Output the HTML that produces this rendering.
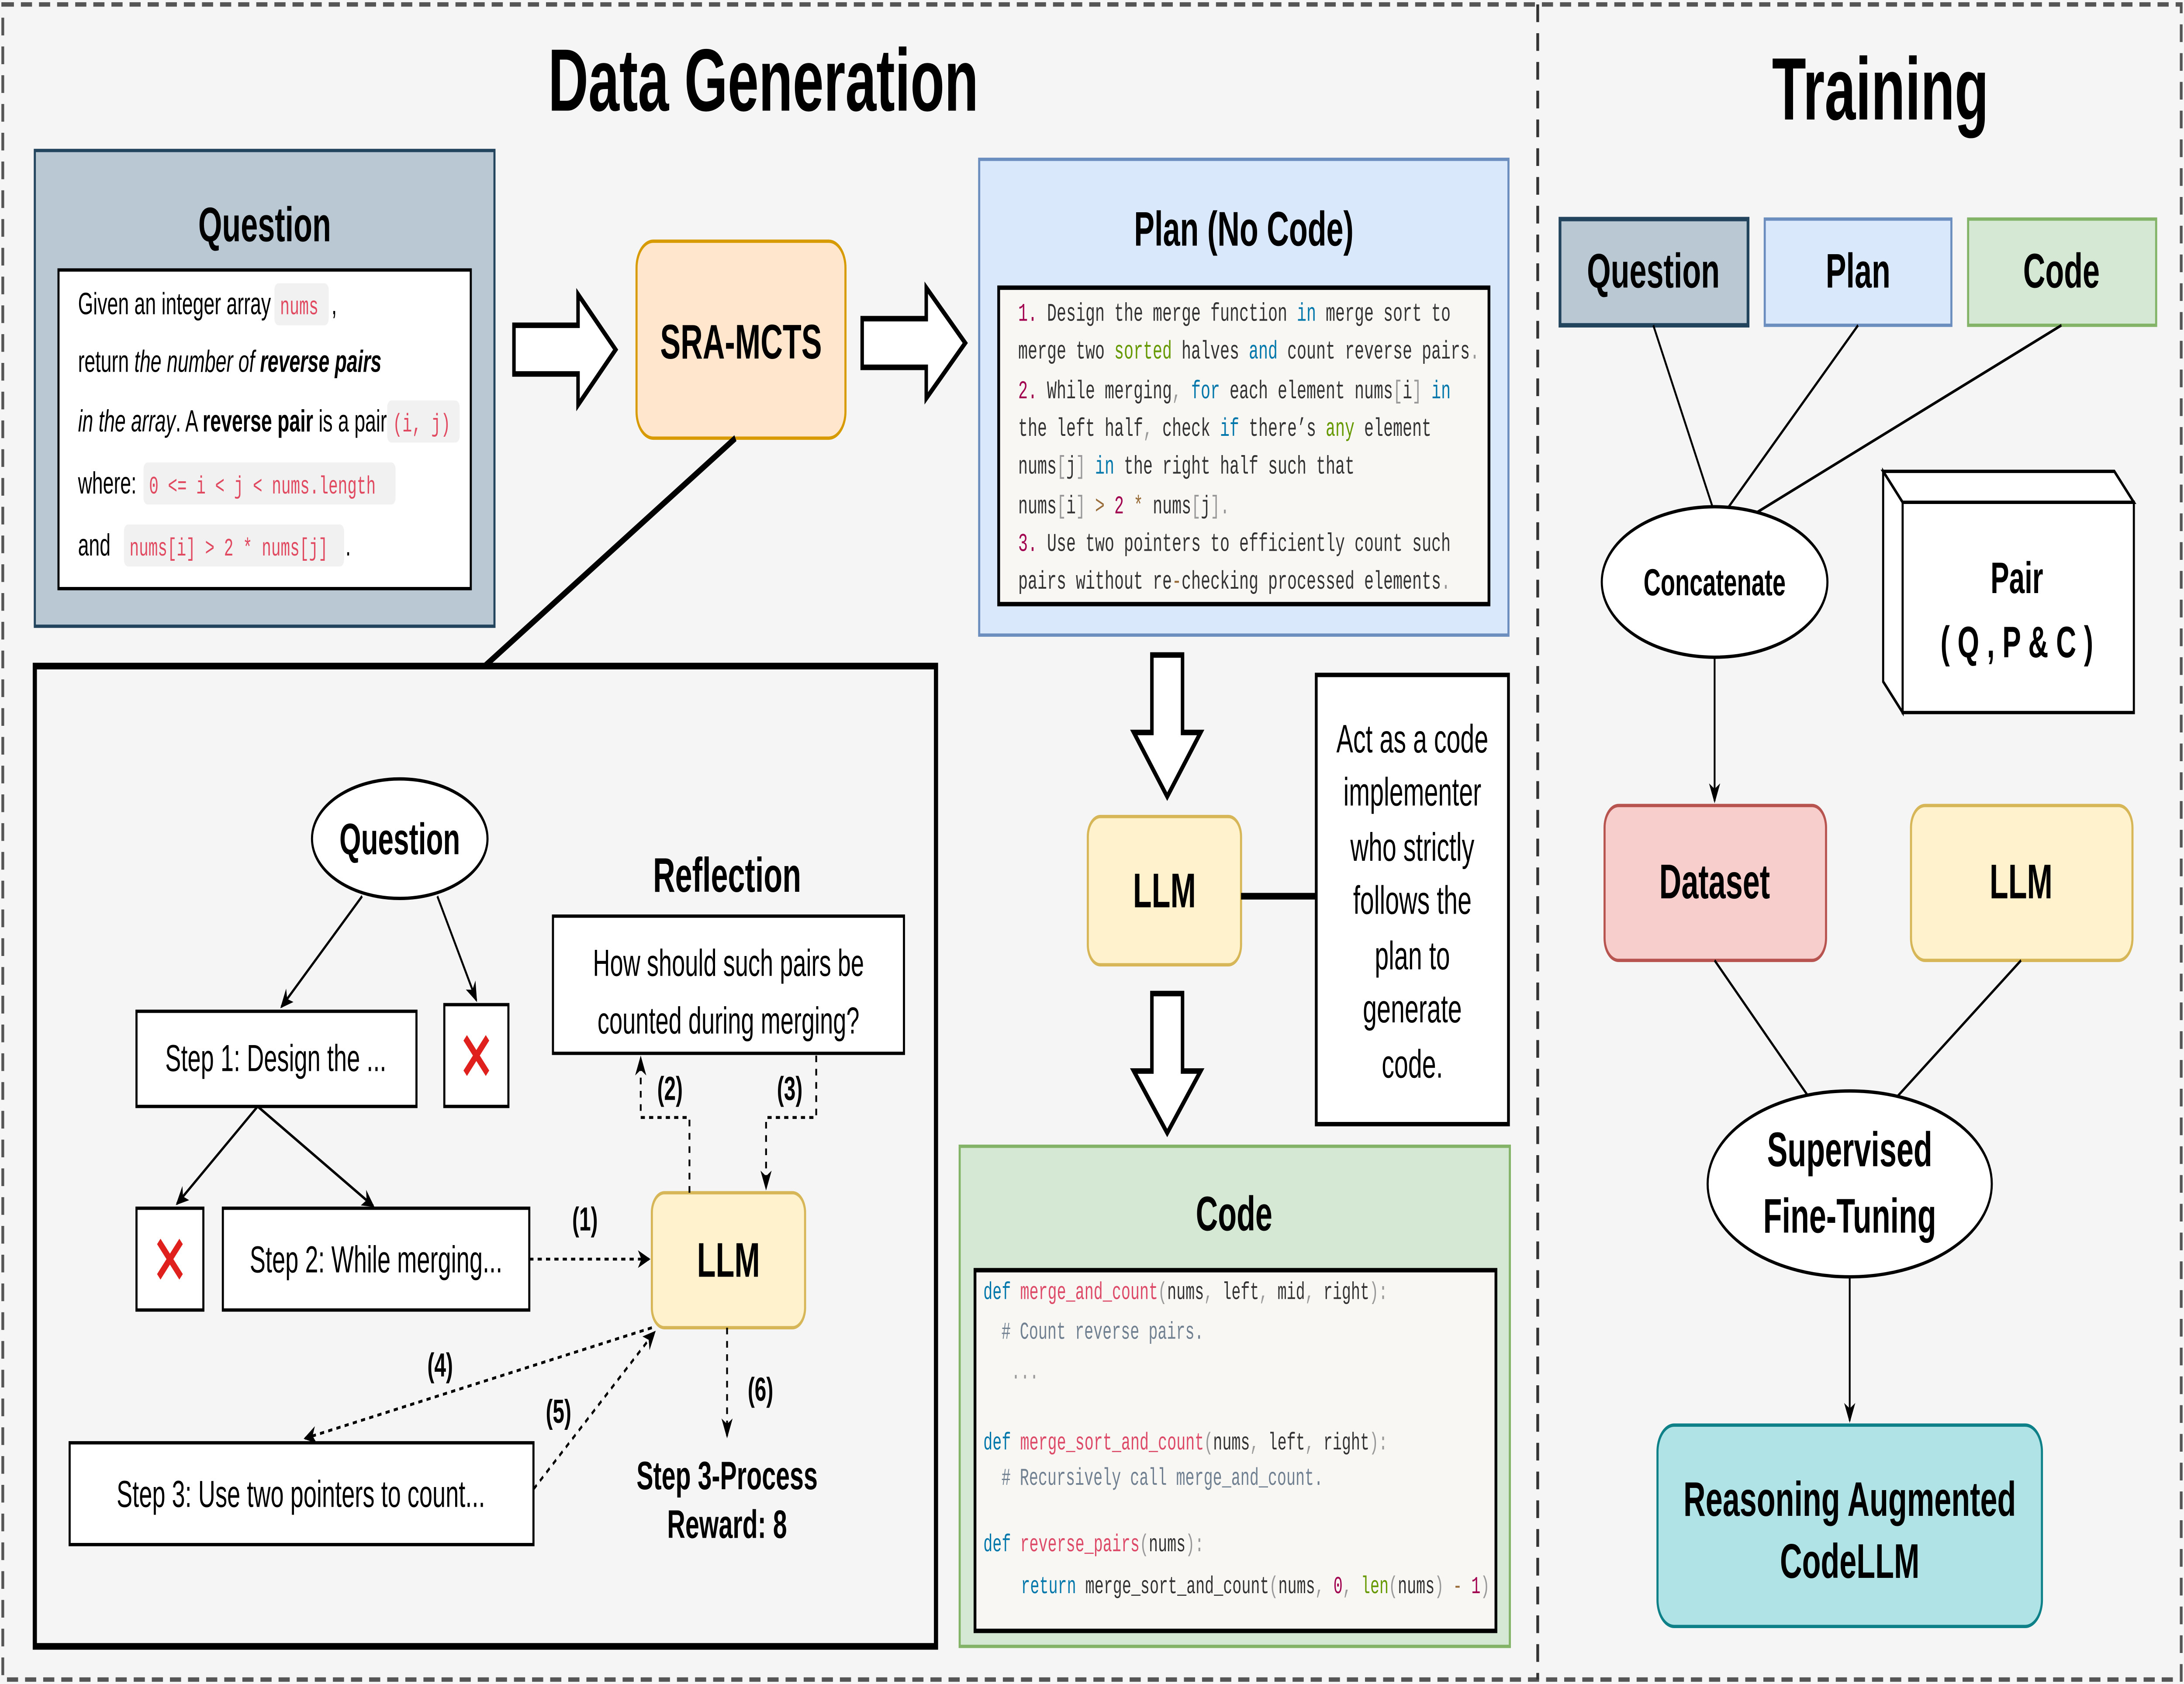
<!DOCTYPE html>
<html><head><meta charset="utf-8"><style>
html,body{margin:0;padding:0;background:#f5f5f5;width:100%;height:100%;overflow:hidden;}
svg{display:block;position:fixed;left:0;top:0;width:100vw;height:100vh;}
</style></head><body>
<svg viewBox="0 0 1568 761" preserveAspectRatio="none" xmlns="http://www.w3.org/2000/svg">
<defs>
<marker id="ar" markerWidth="10" markerHeight="10" refX="8" refY="5" orient="auto" markerUnits="userSpaceOnUse"><path d="M0,1 L9,5 L0,9 L2.5,5 Z" fill="#000"/></marker>
</defs>
<g font-family="'Liberation Sans', sans-serif">
<rect x="0" y="0" width="1568" height="761" fill="#f5f5f5"/>
<rect x="2" y="2" width="1564" height="757" fill="none" stroke="#555" stroke-width="2" stroke-dasharray="8,5"/>
<line x1="1104" y1="2" x2="1104" y2="759" stroke="#333" stroke-width="2" stroke-dasharray="8,5"/>

<text x="548" y="50" font-size="40" font-weight="bold" text-anchor="middle">Data Generation</text>
<text x="1350" y="54" font-size="40" font-weight="bold" text-anchor="middle">Training</text>

<!-- Question -->
<rect x="25" y="68" width="330" height="215" fill="#bac8d3" stroke="#23445d" stroke-width="1.5"/>
<text x="190" y="109" font-size="22" font-weight="bold" text-anchor="middle">Question</text>
<rect x="42" y="122" width="296" height="144" fill="#fff" stroke="#000" stroke-width="1.5"/>
<g font-size="14">
<text x="56" y="142">Given an integer array</text>
<rect x="197" y="128" width="39" height="19" rx="3" fill="#f1f1f1"/><text x="201" y="142" font-family="'Liberation Mono', monospace" font-size="11.5" fill="#e0495f">nums</text>
<text x="238" y="142">,</text>
<text x="56" y="168">return <tspan font-style="italic">the number of </tspan><tspan font-style="italic" font-weight="bold">reverse pairs</tspan></text>
<text x="56" y="195"><tspan font-style="italic">in the array</tspan>. A <tspan font-weight="bold">reverse pair</tspan> is a pair</text>
<rect x="278" y="181" width="52" height="19" rx="3" fill="#f1f1f1"/><text x="282" y="195" font-family="'Liberation Mono', monospace" font-size="11.5" fill="#e0495f">(i, j)</text>
<text x="56" y="223">where:</text>
<rect x="103" y="209" width="181" height="19" rx="3" fill="#f1f1f1"/><text x="107" y="223" font-family="'Liberation Mono', monospace" font-size="11.3" fill="#e0495f">0 &lt;= i &lt; j &lt; nums.length</text>
<text x="56" y="251">and</text>
<rect x="89" y="237" width="158" height="19" rx="3" fill="#f1f1f1"/><text x="93" y="251" font-family="'Liberation Mono', monospace" font-size="11.3" fill="#e0495f">nums[i] &gt; 2 * nums[j]</text>
<text x="248" y="251">.</text>
</g>

<!-- hollow arrows -->
<path d="M369,147 L415,147 L415,133 L442,158 L415,183 L415,169 L369,169 Z" fill="#fff" stroke="#000" stroke-width="2.5"/>
<path d="M619,144 L665,144 L665,130 L693,155 L665,180 L665,166 L619,166 Z" fill="#fff" stroke="#000" stroke-width="2.5"/>
<path d="M827,296 L849,296 L849,331 L862,331 L838,360 L814,331 L827,331 Z" fill="#fff" stroke="#000" stroke-width="2.5"/>
<path d="M827,449 L849,449 L849,484 L862,484 L838,512 L814,484 L827,484 Z" fill="#fff" stroke="#000" stroke-width="2.5"/>

<!-- SRA-MCTS -->
<rect x="457" y="109" width="150" height="89" rx="12" fill="#ffe6cc" stroke="#d79b00" stroke-width="1.5"/>
<text x="532" y="162" font-size="22" font-weight="bold" text-anchor="middle">SRA-MCTS</text>
<line x1="528" y1="198" x2="348" y2="301" stroke="#000" stroke-width="3"/>

<!-- Plan -->
<rect x="703" y="72" width="380" height="215" fill="#dae8fc" stroke="#6c8ebf" stroke-width="1.5"/>
<text x="893" y="111" font-size="22" font-weight="bold" text-anchor="middle">Plan (No Code)</text>
<rect x="717" y="130" width="352" height="143" fill="#f8f7f4" stroke="#000" stroke-width="2"/>
<g font-family="'Liberation Mono', monospace" font-size="11.5" fill="#333">
<text x="731" y="145"><tspan fill="#a1004f">1.</tspan> Design the merge function <tspan fill="#0077aa">in</tspan> merge sort to</text>
<text x="731" y="162">merge two <tspan fill="#669900">sorted</tspan> halves <tspan fill="#0077aa">and</tspan> count reverse pairs<tspan fill="#999">.</tspan></text>
<text x="731" y="180"><tspan fill="#a1004f">2.</tspan> While merging<tspan fill="#999">,</tspan> <tspan fill="#0077aa">for</tspan> each element nums<tspan fill="#999">[</tspan>i<tspan fill="#999">]</tspan> <tspan fill="#0077aa">in</tspan></text>
<text x="731" y="197">the left half<tspan fill="#999">,</tspan> check <tspan fill="#0077aa">if</tspan> there’s <tspan fill="#669900">any</tspan> element</text>
<text x="731" y="214">nums<tspan fill="#999">[</tspan>j<tspan fill="#999">]</tspan> <tspan fill="#0077aa">in</tspan> the right half such that</text>
<text x="731" y="232">nums<tspan fill="#999">[</tspan>i<tspan fill="#999">]</tspan> <tspan fill="#9a6e3a">&gt;</tspan> <tspan fill="#a1004f">2</tspan> <tspan fill="#9a6e3a">*</tspan> nums<tspan fill="#999">[</tspan>j<tspan fill="#999">].</tspan></text>
<text x="731" y="249"><tspan fill="#a1004f">3.</tspan> Use two pointers to efficiently count such</text>
<text x="731" y="266">pairs without re<tspan fill="#9a6e3a">-</tspan>checking processed elements<tspan fill="#999">.</tspan></text>
</g>

<!-- big box -->
<rect x="25" y="301" width="647" height="443" fill="#f5f5f5" stroke="#000" stroke-width="3"/>
<ellipse cx="287" cy="379" rx="63" ry="27" fill="#fff" stroke="#000" stroke-width="1.5"/>
<text x="287" y="386" font-size="20" font-weight="bold" text-anchor="middle">Question</text>
<line x1="260" y1="405" x2="202" y2="455" stroke="#000" stroke-width="1.3" marker-end="url(#ar)"/>
<line x1="314" y1="405" x2="342" y2="452" stroke="#000" stroke-width="1.3" marker-end="url(#ar)"/>
<rect x="98" y="457" width="201" height="43" fill="#fff" stroke="#000" stroke-width="1.5"/>
<text x="198" y="484" font-size="17" text-anchor="middle">Step 1: Design the ...</text>
<rect x="319" y="454" width="46" height="46" fill="#fff" stroke="#000" stroke-width="1.5"/>
<path d="M334,469 L350,485 M350,469 L334,485" stroke="#e0201c" stroke-width="3.5"/>
<line x1="185" y1="500" x2="127" y2="544" stroke="#000" stroke-width="1.3" marker-end="url(#ar)"/>
<line x1="185" y1="500" x2="268" y2="545" stroke="#000" stroke-width="1.3" marker-end="url(#ar)"/>
<rect x="98" y="546" width="48" height="46" fill="#fff" stroke="#000" stroke-width="1.5"/>
<path d="M114,561 L130,577 M130,561 L114,577" stroke="#e0201c" stroke-width="3.5"/>
<rect x="160" y="546" width="220" height="46" fill="#fff" stroke="#000" stroke-width="1.5"/>
<text x="270" y="575" font-size="17" text-anchor="middle">Step 2: While merging...</text>
<text x="420" y="556" font-size="15" font-weight="bold" text-anchor="middle">(1)</text>
<line x1="380" y1="569" x2="466" y2="569" stroke="#000" stroke-width="1.3" stroke-dasharray="3,3" marker-end="url(#ar)"/>
<rect x="468" y="539" width="110" height="61" rx="9" fill="#fff2cc" stroke="#d6b656" stroke-width="1.5"/>
<text x="523" y="577" font-size="22" font-weight="bold" text-anchor="middle">LLM</text>
<text x="522" y="403" font-size="22" font-weight="bold" text-anchor="middle">Reflection</text>
<rect x="397" y="414" width="252" height="62" fill="#fff" stroke="#000" stroke-width="1.5"/>
<text x="523" y="441" font-size="17" text-anchor="middle">How should such pairs be</text>
<text x="523" y="467" font-size="17" text-anchor="middle">counted during merging?</text>
<path d="M495,539 L495,505 L460,505 L460,478" fill="none" stroke="#000" stroke-width="1.3" stroke-dasharray="3,3" marker-end="url(#ar)"/>
<text x="481" y="497" font-size="15" font-weight="bold" text-anchor="middle">(2)</text>
<path d="M586,477 L586,505 L550,505 L550,537" fill="none" stroke="#000" stroke-width="1.3" stroke-dasharray="3,3" marker-end="url(#ar)"/>
<text x="567" y="497" font-size="15" font-weight="bold" text-anchor="middle">(3)</text>
<line x1="468" y1="600" x2="219" y2="650" stroke="#000" stroke-width="1.3" stroke-dasharray="3,3" marker-end="url(#ar)"/>
<text x="316" y="622" font-size="15" font-weight="bold" text-anchor="middle">(4)</text>
<line x1="383" y1="673" x2="470" y2="602" stroke="#000" stroke-width="1.3" stroke-dasharray="3,3" marker-end="url(#ar)"/>
<text x="401" y="643" font-size="15" font-weight="bold" text-anchor="middle">(5)</text>
<line x1="522" y1="600" x2="522" y2="649" stroke="#000" stroke-width="1.3" stroke-dasharray="3,3" marker-end="url(#ar)"/>
<text x="546" y="633" font-size="15" font-weight="bold" text-anchor="middle">(6)</text>
<text x="522" y="673" font-size="18" font-weight="bold" text-anchor="middle">Step 3-Process</text>
<text x="522" y="695" font-size="18" font-weight="bold" text-anchor="middle">Reward: 8</text>
<rect x="50" y="652" width="333" height="46" fill="#fff" stroke="#000" stroke-width="1.5"/>
<text x="216" y="681" font-size="17" text-anchor="middle">Step 3: Use two pointers to count...</text>

<!-- mid LLM -->
<rect x="781" y="369" width="110" height="67" rx="9" fill="#fff2cc" stroke="#d6b656" stroke-width="1.5"/>
<text x="836" y="410" font-size="22" font-weight="bold" text-anchor="middle">LLM</text>
<line x1="891" y1="405" x2="945" y2="405" stroke="#000" stroke-width="3"/>
<rect x="945" y="305" width="138" height="203" fill="#fff" stroke="#000" stroke-width="2"/>
<g font-size="18" text-anchor="middle">
<text x="1014" y="340">Act as a code</text>
<text x="1014" y="364">implementer</text>
<text x="1014" y="389">who strictly</text>
<text x="1014" y="413">follows the</text>
<text x="1014" y="438">plan to</text>
<text x="1014" y="462">generate</text>
<text x="1014" y="487">code.</text>
</g>

<!-- Code -->
<rect x="689" y="518" width="395" height="226" fill="#d5e8d4" stroke="#82b366" stroke-width="1.5"/>
<text x="886" y="556" font-size="22" font-weight="bold" text-anchor="middle">Code</text>
<rect x="700" y="574" width="374" height="163" fill="#f8f7f4" stroke="#000" stroke-width="2"/>
<g font-family="'Liberation Mono', monospace" font-size="11" fill="#333">
<text x="706" y="587"><tspan fill="#0077aa">def</tspan> <tspan fill="#dd4a68">merge_and_count</tspan><tspan fill="#999">(</tspan>nums<tspan fill="#999">,</tspan> left<tspan fill="#999">,</tspan> mid<tspan fill="#999">,</tspan> right<tspan fill="#999">):</tspan></text>
<text x="719" y="605" fill="#708090"># Count reverse pairs.</text>
<text x="726" y="623" fill="#999">...</text>
<text x="706" y="655"><tspan fill="#0077aa">def</tspan> <tspan fill="#dd4a68">merge_sort_and_count</tspan><tspan fill="#999">(</tspan>nums<tspan fill="#999">,</tspan> left<tspan fill="#999">,</tspan> right<tspan fill="#999">):</tspan></text>
<text x="719" y="671" fill="#708090"># Recursively call merge_and_count.</text>
<text x="706" y="701"><tspan fill="#0077aa">def</tspan> <tspan fill="#dd4a68">reverse_pairs</tspan><tspan fill="#999">(</tspan>nums<tspan fill="#999">):</tspan></text>
<text x="733" y="720"><tspan fill="#0077aa">return</tspan> merge_sort_and_count<tspan fill="#999">(</tspan>nums<tspan fill="#999">,</tspan> <tspan fill="#a1004f">0</tspan><tspan fill="#999">,</tspan> <tspan fill="#669900">len</tspan><tspan fill="#999">(</tspan>nums<tspan fill="#999">)</tspan> <tspan fill="#9a6e3a">-</tspan> <tspan fill="#a1004f">1</tspan><tspan fill="#999">)</tspan></text>
</g>

<!-- Training -->
<rect x="1120" y="99" width="135" height="48" fill="#bac8d3" stroke="#23445d" stroke-width="2"/>
<text x="1187" y="130" font-size="22" font-weight="bold" text-anchor="middle">Question</text>
<rect x="1267" y="99" width="134" height="48" fill="#dae8fc" stroke="#6c8ebf" stroke-width="1.5"/>
<text x="1334" y="130" font-size="22" font-weight="bold" text-anchor="middle">Plan</text>
<rect x="1413" y="99" width="135" height="48" fill="#d5e8d4" stroke="#82b366" stroke-width="1.5"/>
<text x="1480" y="130" font-size="22" font-weight="bold" text-anchor="middle">Code</text>
<line x1="1187" y1="147" x2="1230" y2="230" stroke="#000" stroke-width="1.3"/>
<line x1="1334" y1="147" x2="1240" y2="230" stroke="#000" stroke-width="1.3"/>
<line x1="1480" y1="147" x2="1255" y2="234" stroke="#000" stroke-width="1.3"/>
<ellipse cx="1231" cy="263" rx="81" ry="34" fill="#fff" stroke="#000" stroke-width="1.5"/>
<text x="1231" y="269" font-size="17" font-weight="bold" text-anchor="middle">Concatenate</text>
<line x1="1231" y1="297" x2="1231" y2="362" stroke="#000" stroke-width="1.3" marker-end="url(#ar)"/>
<path d="M1352,213 L1518,213 L1532,227 L1366,227 Z" fill="#fff" stroke="#000" stroke-width="1.5"/>
<path d="M1352,213 L1352,308 L1366,322 L1366,227 Z" fill="#fff" stroke="#000" stroke-width="1.5"/>
<rect x="1366" y="227" width="166" height="95" fill="#fff" stroke="#000" stroke-width="1.5"/>
<text x="1448" y="268" font-size="20" font-weight="bold" text-anchor="middle">Pair</text>
<text x="1448" y="297" font-size="20" font-weight="bold" text-anchor="middle">( Q , P &amp; C )</text>
<rect x="1152" y="364" width="159" height="70" rx="10" fill="#f8cecc" stroke="#b85450" stroke-width="1.5"/>
<text x="1231" y="406" font-size="22" font-weight="bold" text-anchor="middle">Dataset</text>
<rect x="1372" y="364" width="159" height="70" rx="10" fill="#fff2cc" stroke="#d6b656" stroke-width="1.5"/>
<text x="1451" y="406" font-size="22" font-weight="bold" text-anchor="middle">LLM</text>
<line x1="1231" y1="434" x2="1300" y2="497" stroke="#000" stroke-width="1.3"/>
<line x1="1451" y1="434" x2="1360" y2="497" stroke="#000" stroke-width="1.3"/>
<ellipse cx="1328" cy="535" rx="102" ry="42" fill="#fff" stroke="#000" stroke-width="1.5"/>
<text x="1328" y="527" font-size="22" font-weight="bold" text-anchor="middle">Supervised</text>
<text x="1328" y="557" font-size="22" font-weight="bold" text-anchor="middle">Fine-Tuning</text>
<line x1="1328" y1="577" x2="1328" y2="642" stroke="#000" stroke-width="1.3" marker-end="url(#ar)"/>
<rect x="1190" y="644" width="276" height="91" rx="12" fill="#b0e3e6" stroke="#0e8088" stroke-width="1.5"/>
<text x="1328" y="685" font-size="22" font-weight="bold" text-anchor="middle">Reasoning Augmented</text>
<text x="1328" y="713" font-size="22" font-weight="bold" text-anchor="middle">CodeLLM</text>
</g>
</svg>
</body></html>
